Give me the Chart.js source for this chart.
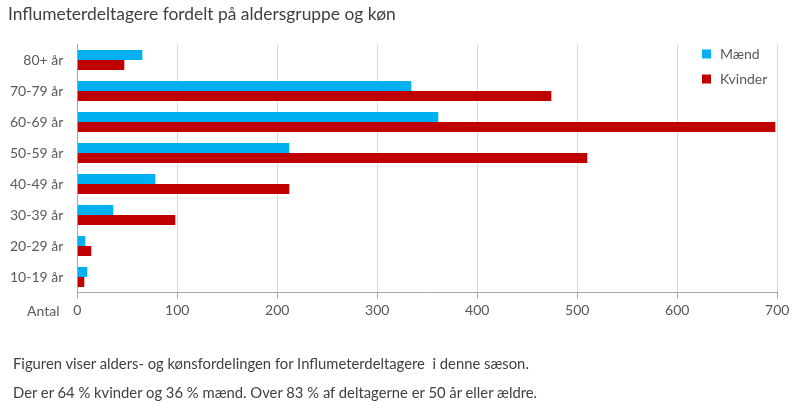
<!DOCTYPE html>
<html><head><meta charset="utf-8">
<script src="https://cdn.jsdelivr.net/npm/chart.js@4/dist/chart.umd.min.js"></script>
<style>
html,body{margin:0;padding:0;background:#fff;}
#wrap{position:relative;width:800px;height:408px;overflow:hidden;font-family:Lato,"Open Sans",sans-serif;}
#c{position:absolute;left:0;top:0;}
.t{position:absolute;white-space:pre;}
</style></head><body>
<div id="wrap">
<canvas id="c" width="800" height="408"></canvas>
<div class="t" style="left:8px;top:3px;font-size:17.4px;color:#404040;">Influmeterdeltagere fordelt på aldersgruppe og køn</div>
<div class="t" style="left:27px;top:302px;font-size:14px;color:#595959;">Antal</div>
<div class="t" style="left:13px;top:354px;font-size:14.8px;color:#404040;">Figuren viser alders- og kønsfordelingen for Influmeterdeltagere  i denne sæson.</div>
<div class="t" style="left:13px;top:383px;font-size:14.8px;color:#404040;">Der er 64 % kvinder og 36 % mænd. Over 83 % af deltagerne er 50 år eller ældre.</div>
</div>
<script>
const categories = ["80+ år","70-79 år","60-69 år","50-59 år","40-49 år","30-39 år","20-29 år","10-19 år"];
const maend   = [65, 334, 361, 212, 78, 36, 8, 10];
const kvinder = [47, 474, 698, 510, 212, 98, 14, 7];
const xTicks = [0,100,200,300,400,500,600,700];

const FONT = "Lato, 'Open Sans', sans-serif";
const legendPlugin = {
  id: 'customLegend',
  afterDraw(chart) {
    const ctx = chart.ctx;
    ctx.save();
    ctx.font = "14px " + FONT;
    ctx.textBaseline = 'middle';
    chart.data.datasets.forEach((ds, i) => {
      const y = 54 + i * 25;
      ctx.fillStyle = ds.backgroundColor;
      ctx.fillRect(702, y - 4.5, 9, 9);
      ctx.fillStyle = '#595959';
      ctx.fillText(ds.label, 720, y);
    });
    ctx.restore();
  }
};

new Chart(document.getElementById('c'), {
  type: 'bar',
  data: {
    labels: categories,
    datasets: [
      {label: 'Mænd', data: maend, backgroundColor: '#00B0F0'},
      {label: 'Kvinder', data: kvinder, backgroundColor: '#C00000'}
    ]
  },
  options: {
    indexAxis: 'y',
    responsive: false,
    animation: false,
    barPercentage: 1,
    categoryPercentage: 0.645,
    layout: {padding: {top: 44.5, right: 22.7, bottom: 0, left: 0}},
    plugins: {legend: {display: false}, tooltip: {enabled: false}},
    scales: {
      x: {
        min: 0, max: 700,
        afterBuildTicks(scale) { scale.ticks = xTicks.map(v => ({value: v})); },
        afterFit(scale) { scale.height = 408 - 292.5; },
        grid: {color: '#D9D9D9', tickColor: '#A6A6A6', tickLength: 6, lineWidth: 1},
        border: {display: true, color: '#A6A6A6'},
        ticks: {color: '#595959', font: {family: FONT, size: 14}, padding: 4, maxRotation: 0}
      },
      y: {
        afterFit(scale) { scale.width = 77.3; },
        grid: {display: false, drawTicks: false},
        border: {display: true, color: '#A6A6A6'},
        ticks: {color: '#595959', font: {family: FONT, size: 14}, padding: 14}
      }
    }
  },
  plugins: [legendPlugin]
});
</script>
</body></html>
